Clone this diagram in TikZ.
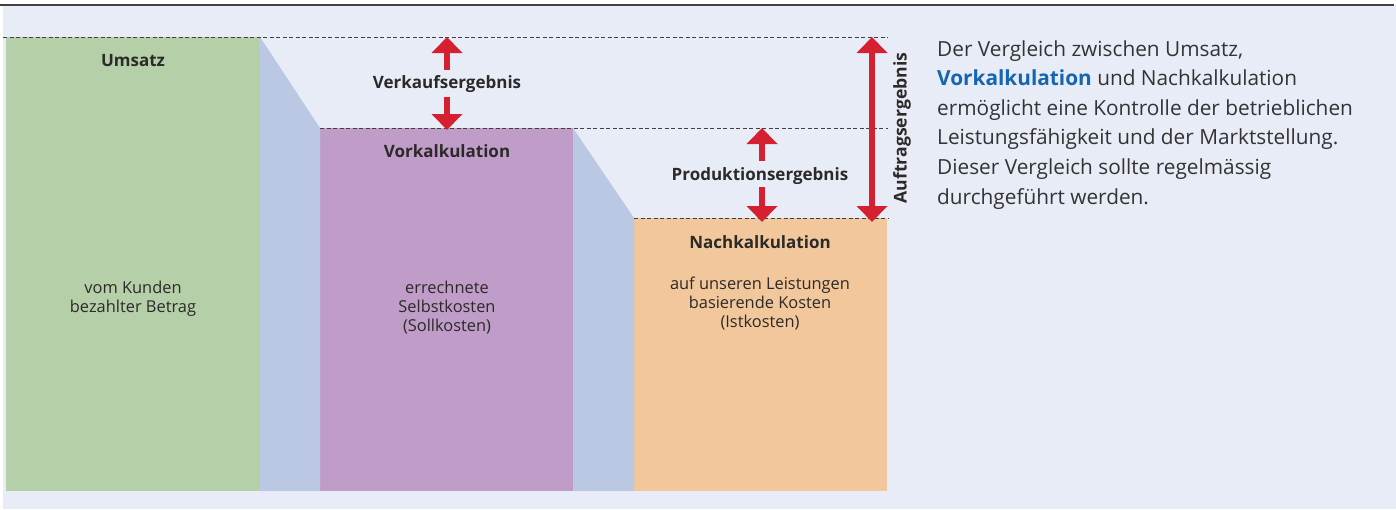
\documentclass[tikz,border=0pt]{standalone}
\usepackage{fontspec}
\setmainfont{Open Sans}
\usetikzlibrary{arrows.meta}
\definecolor{bgblue}{HTML}{E8ECF6}
\definecolor{cgreen}{HTML}{B5CFA9}
\definecolor{ctrap}{HTML}{BAC8E3}
\definecolor{cpurple}{HTML}{C09CC8}
\definecolor{corange}{HTML}{F2C79B}
\definecolor{cred}{HTML}{D42030}
\definecolor{txt}{HTML}{2B2A29}
\definecolor{ptxt}{HTML}{333333}
\definecolor{dgray}{HTML}{404040}
\definecolor{cblue}{HTML}{1565B0}
\begin{document}
\begin{tikzpicture}[x=1pt,y=-1pt,
  lbl/.style={font=\fontsize{17}{20}\selectfont\bfseries, text=txt, inner sep=0pt, anchor=base},
  sub/.style={font=\fontsize{16.4}{19}\selectfont, text=txt, align=center, inner sep=0pt, anchor=base},
  col/.style={draw=none, inner sep=0pt, outer sep=0pt, anchor=north west},
  dline/.style={draw=dgray, line width=0.9pt, dash pattern=on 4pt off 2.5pt},
  redarrow/.style={draw=cred, line width=6pt, -{Triangle[width=30pt,length=16pt]}},
  redboth/.style={draw=cred, line width=6pt, {Triangle[width=30pt,length=16pt]}-{Triangle[width=30pt,length=16pt]}}
]
\useasboundingbox (0,0) rectangle (1396,509);
\fill[white] (0,0) rectangle (1396,509);
\fill[bgblue] (3,5) rectangle (1396,509);
\draw[line width=1.5pt, dgray] (0,5) -- (1394,5);

% columns
\node[col, fill=cgreen, minimum width=254pt, minimum height=454pt] (umsatz) at (6,37) {};
\node[col, fill=cpurple, minimum width=253pt, minimum height=363pt] (vork) at (320,128) {};
\node[col, fill=corange, minimum width=253pt, minimum height=273pt] (nach) at (634,218) {};
\fill[ctrap] (umsatz.north east) -- (vork.north west) -- (vork.south west) -- (umsatz.south east) -- cycle;
\fill[ctrap] (vork.north east) -- (nach.north west) -- (nach.south west) -- (vork.south east) -- cycle;

% dashed levels
\coordinate (l1a) at (3,37);   \coordinate (l1b) at (888,37);
\coordinate (l2a) at (320,128); \coordinate (l2b) at (888,128);
\coordinate (l3a) at (634,218); \coordinate (l3b) at (888,218);
\draw[dline] (l1a) -- (l1b);
\draw[dline] (l2a) -- (l2b);
\draw[dline] (l3a) -- (l3b);

% labels
\node[lbl] (tumsatz) at (133,66) {Umsatz};
\node[lbl] (tverk) at (447,88) {Verkaufsergebnis};
\node[lbl] (tvork) at (447,157) {Vorkalkulation};
\node[lbl] (tprod) at (760,180) {Produktionsergebnis};
\node[lbl] (tnach) at (760,248) {Nachkalkulation};
\node[lbl, rotate=90, anchor=center, font=\fontsize{17.6}{20}\selectfont\bfseries] (tauft) at (902,128) {Auftragsergebnis};

\node[sub] (sumsatz) at (133,312) {vom Kunden\\bezahlter Betrag};
\node[sub] (svork) at (447,331) {errechnete\\Selbstkosten\\(Sollkosten)};
\node[sub] (snach) at (760,327) {auf unseren Leistungen\\basierende Kosten\\(Istkosten)};

% arrows
\coordinate (va1) at (447,70);  \coordinate (va2) at (447,37);
\coordinate (vb1) at (447,97);  \coordinate (vb2) at (447,130);
\coordinate (pa1) at (762,161); \coordinate (pa2) at (762,128);
\coordinate (pb1) at (762,187); \coordinate (pb2) at (762,222);
\coordinate (aa1) at (872,37);  \coordinate (aa2) at (872,222);
\draw[redarrow] (va1) -- (va2);
\draw[redarrow] (vb1) -- (vb2);
\draw[redarrow] (pa1) -- (pa2);
\draw[redarrow] (pb1) -- (pb2);
\draw[redboth] (aa1) -- (aa2);

% paragraph
\node[anchor=base west, inner sep=0pt, text=ptxt, align=left,
      font=\fontsize{20.8}{29.6}\selectfont] (para) at (937,204)
  {Der Vergleich zwischen Umsatz,\\
   {\color{cblue}\bfseries Vorkalkulation} und Nachkalkulation\\
   ermöglicht eine Kontrolle der betrieblichen\\
   Leistungsfähigkeit und der Marktstellung.\\
   Dieser Vergleich sollte regelmässig\\
   durchgeführt werden.};
\end{tikzpicture}
\end{document}
